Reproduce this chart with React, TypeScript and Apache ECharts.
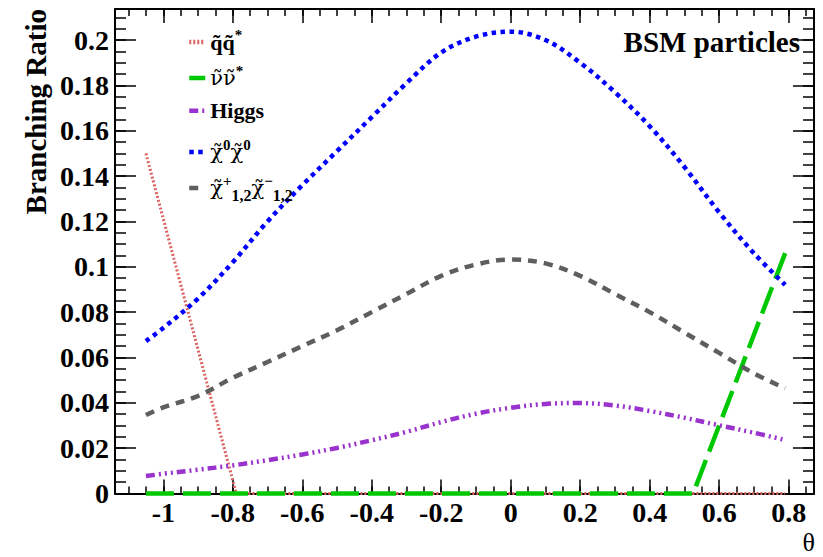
import React, { useEffect, useRef } from "react";
import * as echarts from "echarts";

// ---- data ----
const X_MIN = -1.139;
const X_MAX = 0.873;
const Y_MAX = 0.2137;

const squarkX = [-1.05, -0.79, 0.79];
const squarkY = [0.15, 0, 0];

const sneutrinoX = [-1.05, 0.525, 0.79];
const sneutrinoY = [0, 0, 0.106];

const thetaGrid = [-1.05, -1.0, -0.9, -0.8, -0.7, -0.6, -0.5, -0.4, -0.3, -0.2, -0.1, 0, 0.1, 0.2, 0.3, 0.4, 0.5, 0.6, 0.7, 0.79];
const higgsY = [0.0077, 0.0087, 0.0105, 0.0124, 0.0147, 0.0172, 0.0201, 0.0235, 0.0272, 0.0315, 0.0352, 0.0378, 0.0395, 0.0399, 0.0388, 0.0364, 0.0334, 0.0301, 0.0268, 0.0236];
const neutralinoY = [0.0672, 0.073, 0.086, 0.102, 0.12, 0.136, 0.151, 0.166, 0.181, 0.1945, 0.2015, 0.2037, 0.2, 0.19, 0.177, 0.162, 0.144, 0.124, 0.106, 0.092];
const charginoY = [0.0346, 0.038, 0.043, 0.051, 0.058, 0.065, 0.072, 0.08, 0.088, 0.096, 0.101, 0.1032, 0.1015, 0.096, 0.088, 0.08, 0.071, 0.062, 0.053, 0.0464];

const seriesNames = ["squark", "sneutrino", "Higgs", "neutralino", "chargino"];
const legendLabels: Record<string, string> = {
  squark: "{b|q\u0303q\u0303}{sup|*}",
  sneutrino: "{g|\u03bd\u0303\u03bd\u0303}{sup|*}",
  Higgs: "{b|Higgs}",
  neutralino: "{g|\u03c7\u0303}{sup|0}{g|\u03c7\u0303}{sup|0}",
  chargino: "{g|\u03c7\u0303}{sup|+}{sub|1,2}{g|\u03c7\u0303}{sup|\u2212}{sub|1,2}",
};
const legendTops = [27, 63, 99.7, 137, 173];

const FONT = "'Liberation Serif', 'Times New Roman', serif";
const GFONT = "'DejaVu Serif', 'Liberation Serif', serif";

const pairs = (xs: number[], ys: number[]) => xs.map((x, i) => [x, ys[i]]);

function isMultiple(v: number, step: number) {
  return Math.abs(v / step - Math.round(v / step)) < 1e-6;
}

export default function App() {
  const ref = useRef<HTMLDivElement>(null);
  useEffect(() => {
    if (!ref.current) return;
    const chart = echarts.init(ref.current, null, { renderer: "svg" });
    const lineAx = { show: true, onZero: false, lineStyle: { color: "#000", width: 2 } };
    const noLine = { show: false, onZero: false };
    const tickStyle = { color: "#000", width: 1.5 };
    const xBase = { type: "value", min: X_MIN, max: X_MAX, splitLine: { show: false } };
    const yBase = { type: "value", min: 0, max: Y_MAX, splitLine: { show: false } };
    const xMajor = { ...xBase, splitNumber: 10, minInterval: 0.2, maxInterval: 0.2 };
    const xMinor = { ...xBase, splitNumber: 40, minInterval: 0.05, maxInterval: 0.05 };

    const legendBase = {
      orient: "vertical",
      left: 187,
      padding: 0,
      itemWidth: 16,
      itemHeight: 14,
      selectedMode: false,
      lineStyle: { width: 4.5 },
      itemStyle: { color: "transparent", borderColor: "transparent", borderWidth: 0 },
      formatter: (n: string) => legendLabels[n] || n,
      textStyle: {
        fontFamily: FONT,
        fontSize: 22,
        fontWeight: "bold",
        color: "#000",
        rich: {
          b: { fontFamily: FONT, fontSize: 22, fontWeight: "bold", color: "#000", lineHeight: 30 },
          g: { fontFamily: GFONT, fontSize: 21, fontWeight: "normal", color: "#000", lineHeight: 30 },
          sup: { fontFamily: FONT, fontSize: 15, fontWeight: "bold", color: "#000", verticalAlign: "top", lineHeight: 14 },
          sub: { fontFamily: FONT, fontSize: 16, fontWeight: "bold", color: "#000", verticalAlign: "bottom", lineHeight: 14 },
        },
      },
    };

    const option: any = {
      animation: false,
      grid: { left: 115, right: 9, top: 9, bottom: 63.5, outerBoundsMode: "none" },
      xAxis: [
        {
          ...xMajor,
          position: "bottom",
          axisLine: lineAx,
          axisTick: { show: true, inside: true, length: 14, lineStyle: tickStyle },
          axisLabel: {
            show: true,
            margin: 5,
            showMinLabel: false,
            showMaxLabel: false,
            fontFamily: FONT,
            fontWeight: "bold",
            fontSize: 28,
            color: "#000",
            formatter: (v: number) => (isMultiple(v, 0.2) ? String(Math.round(v * 10) / 10) : ""),
          },
        },
        {
          ...xMinor,
          position: "bottom",
          axisLine: noLine,
          axisTick: { show: true, inside: true, length: 7, lineStyle: tickStyle },
          axisLabel: { show: false },
        },
        {
          ...xMajor,
          position: "top",
          axisLine: lineAx,
          axisTick: { show: true, inside: true, length: 14, lineStyle: tickStyle },
          axisLabel: { show: false },
        },
        {
          ...xMinor,
          position: "top",
          axisLine: noLine,
          axisTick: { show: true, inside: true, length: 7, lineStyle: tickStyle },
          axisLabel: { show: false },
        },
      ],
      yAxis: [
        {
          ...yBase,
          interval: 0.02,
          position: "left",
          axisLine: lineAx,
          axisTick: { show: true, inside: true, length: 21, lineStyle: tickStyle },
          axisLabel: {
            show: true,
            margin: 6,
            showMaxLabel: false,
            fontFamily: FONT,
            fontWeight: "bold",
            fontSize: 28,
            color: "#000",
            formatter: (v: number) => (isMultiple(v, 0.02) ? String(Math.round(v * 100) / 100) : ""),
          },
        },
        {
          ...yBase,
          interval: 0.005,
          position: "left",
          axisLine: noLine,
          axisTick: { show: true, inside: true, length: 11, lineStyle: tickStyle },
          axisLabel: { show: false },
        },
        {
          ...yBase,
          interval: 0.02,
          position: "right",
          axisLine: lineAx,
          axisTick: { show: true, inside: true, length: 21, lineStyle: tickStyle },
          axisLabel: { show: false },
        },
        {
          ...yBase,
          interval: 0.005,
          position: "right",
          axisLine: noLine,
          axisTick: { show: true, inside: true, length: 11, lineStyle: tickStyle },
          axisLabel: { show: false },
        },
      ],
      legend: seriesNames.map((n, i) => ({ ...legendBase, top: legendTops[i], data: [n] })),
      graphic: [
        {
          type: "text",
          x: 800,
          y: 42,
          style: {
            text: "BSM particles",
            fontFamily: FONT,
            fontSize: 29,
            fontWeight: "bold",
            fill: "#000",
            align: "right",
            verticalAlign: "middle",
            textAlign: "right",
            textVerticalAlign: "middle",
          },
        },
        {
          type: "text",
          x: 36,
          y: 9,
          rotation: Math.PI / 2,
          style: {
            text: "Branching Ratio",
            fontFamily: FONT,
            fontSize: 29,
            fontWeight: "bold",
            fill: "#000",
            align: "right",
            verticalAlign: "middle",
            textAlign: "right",
            textVerticalAlign: "middle",
          },
        },
        {
          type: "text",
          x: 815,
          y: 555,
          style: {
            text: "\u03b8",
            fontFamily: FONT,
            fontSize: 26,
            fontWeight: "normal",
            fill: "#000",
            align: "right",
            verticalAlign: "bottom",
            textAlign: "right",
            textVerticalAlign: "bottom",
          },
        },
      ],
      series: [
        {
          name: "squark",
          type: "line",
          symbol: "none",
          clip: false,
          data: pairs(squarkX, squarkY),
          itemStyle: { color: "#dc6262" },
          lineStyle: { color: "#dc6262", width: 3, type: [2, 2] },
        },
        {
          name: "sneutrino",
          type: "line",
          symbol: "none",
          clip: false,
          data: pairs(sneutrinoX, sneutrinoY),
          itemStyle: { color: "#00c800" },
          lineStyle: { color: "#00c800", width: 4.5, type: [28, 9] },
        },
        {
          name: "Higgs",
          type: "line",
          symbol: "none",
          smooth: 0.35,
          clip: false,
          data: pairs(thetaGrid, higgsY),
          itemStyle: { color: "#9a32cd" },
          lineStyle: { color: "#9a32cd", width: 4.5, type: [9, 4, 2, 4, 2, 4, 2, 4] },
        },
        {
          name: "neutralino",
          type: "line",
          symbol: "none",
          smooth: 0.35,
          clip: false,
          data: pairs(thetaGrid, neutralinoY),
          itemStyle: { color: "#0000ff" },
          lineStyle: { color: "#0000ff", width: 4.5, type: [4.5, 4.5] },
        },
        {
          name: "chargino",
          type: "line",
          symbol: "none",
          smooth: 0.35,
          clip: false,
          data: pairs(thetaGrid, charginoY),
          itemStyle: { color: "#5e5e5e" },
          lineStyle: { color: "#5e5e5e", width: 4.5, type: [9, 7] },
        },
      ],
    };
    chart.setOption(option);
    return () => chart.dispose();
  }, []);
  return (
    <div
      ref={ref}
      style={{ position: "absolute", left: 0, top: 0, width: 823, height: 557, background: "#fff" }}
    />
  );
}
